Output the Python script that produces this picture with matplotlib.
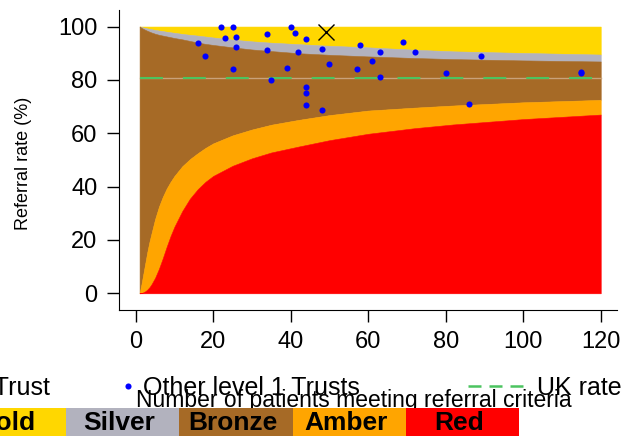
import matplotlib.pyplot as plt
from matplotlib.lines import Line2D

plt.rcParams['font.family'] = ['Liberation Sans', 'DejaVu Sans']

# funnel band limits (%) at these patient counts
n_grid = [1, 1.5, 2, 2.5, 3, 3.5, 4, 5, 6, 7, 8, 9, 10, 12, 14, 16, 18, 20,
          25, 30, 35, 42, 50, 60, 72, 82, 100, 120]
gold_low = [100, 99.8, 99.6, 99.45, 99.3, 99.15, 99.0, 98.75, 98.5, 98.3, 98.05, 97.85, 97.65,
            97.25, 96.9, 96.6, 96.25, 95.9, 95.1, 94.45, 93.95, 93.4, 92.8, 92.2, 91.3, 90.7,
            90.1, 89.5]
silver_low = [100, 99.5, 99.1, 98.75, 98.4, 98.1, 97.8, 97.3, 96.9, 96.6, 96.3, 96.0, 95.7,
              95.2, 94.6, 94.0, 93.5, 93.1, 92.2, 91.4, 90.8, 90.0, 89.4, 88.8, 88.2, 87.8,
              87.3, 86.9]
amber_high = [0, 3.5, 7.5, 11.5, 15.5, 19.0, 22.0, 27.8, 32.5, 36.2, 39.3, 41.8, 44.0,
              47.6, 50.3, 52.5, 54.5, 56.2, 59.2, 61.4, 63.2, 65.0, 66.8, 68.5, 69.6, 70.4,
              71.6, 72.5]
red_high = [0, 0.1, 0.4, 0.8, 1.4, 2.2, 3.2, 5.8, 9.2, 13.2, 17.5, 21.5, 25.0,
            30.8, 35.5, 39.0, 41.8, 44.0, 47.8, 50.6, 52.8, 55.0, 57.4, 59.8, 61.9, 63.3,
            65.3, 67.0]

# other level 1 trusts: patients meeting criteria, referral rate (%)
trust_n = [22, 25, 16, 23, 26, 26, 18, 25, 34, 34, 35, 39, 40, 41, 42, 44, 48, 50,
           58, 57, 63, 61, 63, 69, 72, 80, 44, 44, 44, 48, 89, 86, 115, 115]
trust_rate = [100, 100, 93.8, 95.7, 96.2, 92.3, 88.9, 84.0, 97.1, 91.2, 80.0, 84.6, 100, 97.6,
              90.5, 95.5, 91.7, 86.0, 93.1, 84.2, 90.5, 86.9, 81.0, 94.2, 90.3, 82.5, 77.3,
              75.0, 70.5, 68.8, 88.8, 70.9, 82.6, 82.9]

this_n = 49
this_rate = 97.9
uk_rate = 80.6

band_labels = ['Gold', 'Silver', 'Bronze', 'Amber', 'Red']
band_colors = ['#FFD700', '#B2B2BE', '#A66A26', '#FFA500', '#FF0000']
uk_color = '#4CC460'

W, H = 628, 436
fig = plt.figure(figsize=(W / 100, H / 100), dpi=100)
ax = fig.add_axes([119 / W, 1 - 310 / H, (617 - 119) / W, 300 / H])

gold, silver, bronze, amber, red = band_colors
top = [100] * len(n_grid)
bottom = [0] * len(n_grid)
for lo, hi, c in [(gold_low, top, gold), (silver_low, gold_low, silver),
                  (amber_high, silver_low, bronze), (red_high, amber_high, amber),
                  (bottom, red_high, red)]:
    ax.fill_between(n_grid, lo, hi, facecolor=c, edgecolor=c, lw=0.4)

ax.plot([n_grid[0], n_grid[-1]], [uk_rate, uk_rate], color='#C9A27A', lw=1)
ax.plot([n_grid[0], n_grid[-1]], [uk_rate, uk_rate], color=uk_color, lw=1.5, dashes=(11, 9.6))

ax.plot(trust_n, trust_rate, 'o', color='#0000FF', ms=4.4, mew=0)
ax.plot(this_n, this_rate, 'x', color='black', ms=11, mew=1)

ax.set_xlim(-4.31, 124.2)
ax.set_ylim(-6.26, 106.2)
ax.set_xticks(range(0, 121, 20))
ax.set_yticks(range(0, 101, 20))
ax.spines['top'].set_visible(False)
ax.spines['right'].set_visible(False)
ax.tick_params(length=8.6, width=1, labelsize=17)
ax.tick_params(axis='x', pad=6.5)
ax.tick_params(axis='y', pad=7)

ax.set_ylabel('Referral rate (%)', fontsize=13)
ax.yaxis.set_label_coords(-0.175, 0.49)
ax.set_xlabel('Number of patients meeting referral criteria', fontsize=16.5)
ax.xaxis.set_label_coords(0.472, -0.263)

# legend row (partly cut off on the left, as in the original)
leg_y = 1 - 388 / H
common = dict(frameon=False, fontsize=18, borderpad=0, borderaxespad=0)
fig.legend([Line2D([], [], ls='none', marker='x', color='black', ms=11, mew=1)], ['This Trust'],
           loc='center right', bbox_to_anchor=(50 / W, leg_y), handlelength=1, handletextpad=0.4, **common)
fig.legend([Line2D([], [], ls='none', marker='o', color='#0000FF', ms=4.4, mew=0)], ['Other level 1 Trusts'],
           loc='center left', bbox_to_anchor=(123 / W, leg_y), handlelength=0.4, handletextpad=0.4, **common)
fig.legend([Line2D([], [], color=uk_color, lw=1.8, dashes=(5.2, 3.2))], ['UK rate'],
           loc='center left', bbox_to_anchor=(468 / W, leg_y), handlelength=2.2, handletextpad=0.56, **common)

# colour key strip along the bottom
cell = 113.3
kax = fig.add_axes([0, 0, 1, 28 / H])
kax.bar(range(len(band_labels)), [1] * len(band_labels), width=1, color=band_colors)
for i, lab in enumerate(band_labels):
    kax.text(i - 0.03, 0.45, lab, ha='center', va='center', fontsize=19, fontweight='bold')
kax.set_xlim(0.5 - 66 / cell, 0.5 + (W - 66) / cell)
kax.set_ylim(0, 1)
kax.axis('off')

fig.savefig('out.png', dpi=100)
